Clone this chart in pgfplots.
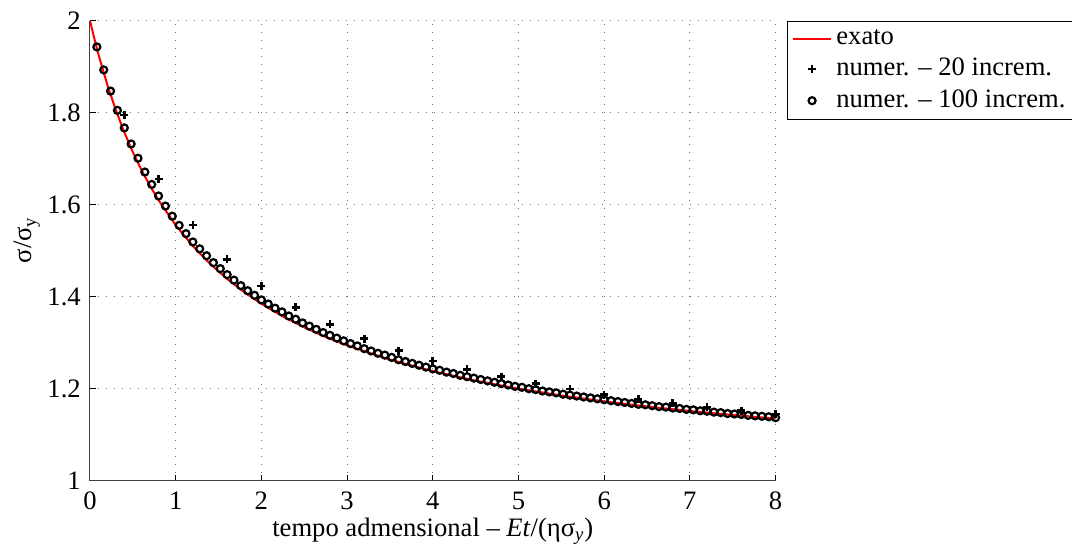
\documentclass[border=0pt]{standalone}
\usepackage{fontspec}
\setmainfont{Liberation Serif}
\usepackage{pgfplots}
\pgfplotsset{compat=1.18}
\begin{document}
\fontsize{13.3}{16}\selectfont
\begin{tikzpicture}
\begin{axis}[
  scale only axis, width=342.8pt, height=230pt,
  xmin=0, xmax=8, ymin=1, ymax=2,
  xtick={0,1,2,3,4,5,6,7,8}, ytick={1,1.2,1.4,1.6,1.8,2},
  axis x line*=bottom, axis y line*=left,
  axis line style={line width=0.5pt, black!75, -},
  tick align=inside, major tick length=3pt,
  tick style={line width=0.5pt, black},
  grid=major, major grid style={dash pattern=on 0.5pt off 3.5pt, line width=0.5pt, black!55},
  /pgf/number format/assume math mode=true,
  tick label style={font=\fontsize{13.3}{16}\selectfont},
  xticklabel style={yshift=-1pt, text depth=0pt},
  label style={font=\fontsize{13.3}{16}\selectfont},
  xlabel={tempo admensional – \textit{Et}/(ησ\textsubscript{\textit{y}})},
  ylabel={σ/σ\textsubscript{y}},
  xlabel style={at={(axis description cs:0.5,-0.121)}, anchor=base},
  ylabel style={at={(axis description cs:-0.092,0.523)}, anchor=center, rotate=0},
  legend style={at={(1,1)}, anchor=north west, xshift=5.85pt, draw=black, line width=0.5pt,
    font=\fontsize{13.3}{16}\selectfont, inner xsep=2pt, inner ysep=2pt, row sep=1pt,
    cells={anchor=west}},
  legend image code/.code={\draw[mark repeat=2,mark phase=2,#1] plot coordinates {(0pt,0pt) (9.65pt,0pt) (19.3pt,0pt)};},
]
\addplot[red, line width=1pt, mark=none] coordinates {
(0,2) (0.05,1.9615) (0.1,1.9259) (0.2,1.8621) (0.3,1.8065) (0.4,1.7576) (0.5,1.7143)
(0.6,1.6757) (0.7,1.6410) (0.8,1.6098) (1.0,1.5556) (1.2,1.5102) (1.4,1.4717) (1.6,1.4386)
(1.8,1.4098) (2.0,1.3846) (2.25,1.3571) (2.5,1.3333) (2.75,1.3125) (3.0,1.2941) (3.5,1.2632)
(4.0,1.2381) (4.5,1.2174) (5.0,1.2000) (5.5,1.1852) (6.0,1.1724) (6.5,1.1613) (7.0,1.1515)
(7.5,1.1429) (8.0,1.1351)};
\addlegendentry{exato}
\addplot[only marks, black, mark=+, mark size=2pt, line width=1.3pt] coordinates {
(0.4,1.795) (0.8,1.656) (1.2,1.556) (1.6,1.481) (2.0,1.423) (2.4,1.377) (2.8,1.340)
(3.2,1.309) (3.6,1.283) (4.0,1.260) (4.4,1.242) (4.8,1.226) (5.2,1.211) (5.6,1.199)
(6.0,1.187) (6.4,1.177) (6.8,1.168) (7.2,1.160) (7.6,1.152) (8.0,1.145)};
\addlegendentry{numer. – 20 increm.}
\addplot[only marks, black, mark=o, mark size=1.75pt, line width=1.1pt] coordinates {
(0.08,1.943) (0.16,1.893) (0.24,1.847) (0.32,1.805) (0.40,1.767) (0.48,1.732) (0.56,1.701)
(0.64,1.671) (0.72,1.644) (0.80,1.619) (0.88,1.597) (0.96,1.575) (1.04,1.555) (1.12,1.537)
(1.20,1.519) (1.28,1.504) (1.36,1.489) (1.44,1.474) (1.52,1.461) (1.60,1.448) (1.68,1.436)
(1.76,1.424) (1.84,1.413) (1.92,1.403) (2.00,1.393) (2.08,1.384) (2.16,1.375) (2.24,1.367)
(2.32,1.358) (2.40,1.351) (2.48,1.343) (2.56,1.336) (2.64,1.329) (2.72,1.322) (2.80,1.316)
(2.88,1.310) (2.96,1.304) (3.04,1.298) (3.12,1.293) (3.20,1.287) (3.28,1.282) (3.36,1.277)
(3.44,1.273) (3.52,1.268) (3.60,1.263) (3.68,1.259) (3.76,1.255) (3.84,1.251) (3.92,1.247)
(4.00,1.243) (4.08,1.240) (4.16,1.236) (4.24,1.233) (4.32,1.229) (4.40,1.226) (4.48,1.223)
(4.56,1.220) (4.64,1.217) (4.72,1.214) (4.80,1.211) (4.88,1.208) (4.96,1.205) (5.04,1.203)
(5.12,1.200) (5.20,1.198) (5.28,1.195) (5.36,1.193) (5.44,1.191) (5.52,1.188) (5.60,1.186)
(5.68,1.184) (5.76,1.182) (5.84,1.180) (5.92,1.178) (6.00,1.176) (6.08,1.174) (6.16,1.172)
(6.24,1.170) (6.32,1.168) (6.40,1.166) (6.48,1.165) (6.56,1.163) (6.64,1.161) (6.72,1.160)
(6.80,1.158) (6.88,1.157) (6.96,1.155) (7.04,1.154) (7.12,1.152) (7.20,1.151) (7.28,1.149)
(7.36,1.148) (7.44,1.146) (7.52,1.145) (7.60,1.144) (7.68,1.142) (7.76,1.141) (7.84,1.140)
(7.92,1.139) (8.00,1.137)};
\addlegendentry{numer. – 100 increm.}
\end{axis}
\pgfresetboundingbox
\path[use as bounding box] (-45pt,-34.65pt) rectangle (491pt,240.35pt);
\end{tikzpicture}
\end{document}
